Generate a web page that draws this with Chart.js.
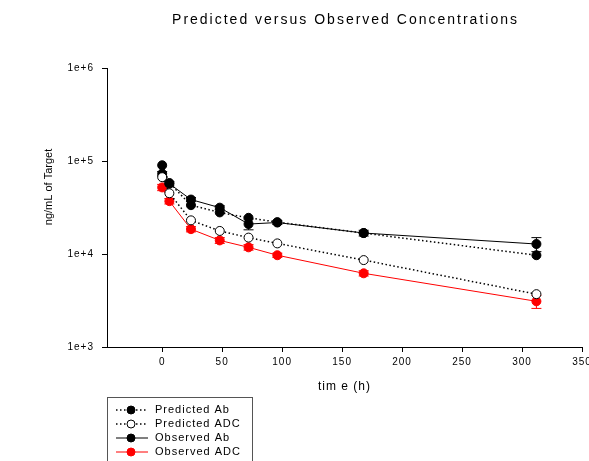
<!DOCTYPE html>
<html>
<head>
<meta charset="utf-8">
<script src="https://cdn.jsdelivr.net/npm/chart.js@4.4.1/dist/chart.umd.min.js"></script>
<style>
  html, body { margin: 0; padding: 0; background: #fff; overflow: hidden; }
</style>
</head>
<body>
<canvas id="chart" width="600" height="470"></canvas>
<script>
// sampling times (h)
const times = [0, 6, 24, 48, 72, 96, 168, 312];

// concentrations, ng/mL
const predictedAb  = [90000, 58000, 33500, 28000, 24500, 22000, 16800, 9700];
const predictedAdc = [67000, 45000, 23000, 17700, 15000, 13000, 8600, 3700];
const observedAb   = [73000, 57000, 38500, 31500, 21000, 21800, 16800, 12800];
const observedAdc  = [52000, 37000, 18500, 14000, 11800, 9700, 6200, 3100];

// +/- error of the observed points
const observedAbErr  = [4000, 3000, 2000, 1500, 2800, 1000, 1200, 2200];
const observedAdcErr = [4000, 2500, 1200, 1000, 800, 500, 400, 500];

const xTicks = [0, 50, 100, 150, 200, 250, 300, 350];
const yTicks = [1e3, 1e4, 1e5, 1e6];
const yTickLabels = ['1e+3', '1e+4', '1e+5', '1e+6'];

const chartTitle = 'Predicted versus Observed Concentrations';
const yTitle = 'ng/mL of Target';

const FONT = '"Liberation Sans", Arial, sans-serif';

const toPoints = (vals) => vals.map((v, i) => ({x: times[i], y: v}));

const letterSpacing = {
    id: 'letterSpacing',
    beforeLayout(chart) { chart.ctx.letterSpacing = '1px'; },
    beforeDraw(chart) { chart.ctx.letterSpacing = '1px'; }
};

const errorBars = {
    id: 'errorBars',
    beforeDatasetsDraw(chart) {
        const {ctx, scales: {x, y}} = chart;
        chart.data.datasets.forEach(ds => {
            if (!ds.errors) return;
            ctx.save();
            ctx.strokeStyle = ds.borderColor;
            ctx.lineWidth = 1;
            ds.data.forEach((p, j) => {
                const e = ds.errors[j];
                const px = x.getPixelForValue(p.x);
                const top = y.getPixelForValue(p.y + e);
                const bot = y.getPixelForValue(p.y - e);
                ctx.beginPath();
                ctx.moveTo(px, top); ctx.lineTo(px, bot);
                ctx.moveTo(px - 5, top); ctx.lineTo(px + 5, top);
                ctx.moveTo(px - 5, bot); ctx.lineTo(px + 5, bot);
                ctx.stroke();
            });
            ctx.restore();
        });
    }
};

// title, y axis title and the boxed legend under the axis
const extras = {
    id: 'extras',
    afterDraw(chart) {
        const ctx = chart.ctx;
        const area = chart.chartArea;

        ctx.save();
        ctx.fillStyle = '#000';
        ctx.letterSpacing = '2px';
        ctx.font = '14px ' + FONT;
        ctx.textAlign = 'center';
        ctx.textBaseline = 'alphabetic';
        ctx.fillText(chartTitle, (area.left + area.right) / 2 + 1, 24);

        ctx.letterSpacing = '0px';
        ctx.font = '11px ' + FONT;
        ctx.translate(49, 187);
        ctx.rotate(-Math.PI / 2);
        ctx.textBaseline = 'middle';
        ctx.fillText(yTitle, 0, 0);
        ctx.restore();

        ctx.save();
        ctx.strokeStyle = '#555';
        ctx.lineWidth = 1;
        ctx.strokeRect(107.5, 397.5, 145, 90);
        ctx.letterSpacing = '1px';
        ctx.font = '11px ' + FONT;
        ctx.textBaseline = 'middle';
        chart.data.datasets.forEach((ds, i) => {
            const yy = 410 + i * 14;
            ctx.save();
            ctx.strokeStyle = ds.borderColor;
            ctx.lineWidth = ds.borderWidth;
            ctx.setLineDash(ds.borderDash || []);
            ctx.beginPath();
            ctx.moveTo(116, yy); ctx.lineTo(148, yy);
            ctx.stroke();
            ctx.setLineDash([]);
            ctx.beginPath();
            ctx.arc(131, yy, 4, 0, Math.PI * 2);
            ctx.fillStyle = ds.pointBackgroundColor;
            ctx.fill();
            ctx.lineWidth = 1;
            ctx.strokeStyle = ds.pointBorderColor;
            ctx.stroke();
            ctx.restore();
            ctx.fillStyle = '#000';
            ctx.fillText(ds.label, 155, yy);
        });
        ctx.restore();
    }
};

const dotted = [1.5, 2.5];

new Chart(document.getElementById('chart'), {
    type: 'scatter',
    data: {
        datasets: [
            {
                label: 'Predicted Ab',
                data: toPoints(predictedAb),
                showLine: true,
                borderColor: '#000',
                borderWidth: 1.5,
                borderDash: dotted,
                pointBackgroundColor: '#000',
                pointBorderColor: '#000',
                pointRadius: 4.5,
                pointBorderWidth: 1
            },
            {
                label: 'Predicted ADC',
                data: toPoints(predictedAdc),
                showLine: true,
                borderColor: '#000',
                borderWidth: 1.5,
                borderDash: dotted,
                pointBackgroundColor: '#fff',
                pointBorderColor: '#000',
                pointRadius: 4.5,
                pointBorderWidth: 1
            },
            {
                label: 'Observed Ab',
                data: toPoints(observedAb),
                errors: observedAbErr,
                showLine: true,
                borderColor: '#000',
                borderWidth: 1,
                pointBackgroundColor: '#000',
                pointBorderColor: '#000',
                pointRadius: 4.5,
                pointBorderWidth: 1
            },
            {
                label: 'Observed ADC',
                data: toPoints(observedAdc),
                errors: observedAdcErr,
                showLine: true,
                borderColor: '#ff0000',
                borderWidth: 1,
                pointBackgroundColor: '#ff0000',
                pointBorderColor: '#ff0000',
                pointRadius: 4.5,
                pointBorderWidth: 1
            }
        ]
    },
    options: {
        responsive: false,
        animation: false,
        layout: { padding: { left: 0, right: 18, top: 68, bottom: 0 } },
        scales: {
            x: {
                type: 'linear',
                min: -46,
                max: 350,
                afterBuildTicks: (scale) => { scale.ticks = xTicks.map(v => ({value: v})); },
                afterFit: (scale) => { scale.height = 470 - 347; },
                grid: { drawOnChartArea: false, tickLength: 5, tickColor: '#000' },
                border: { color: '#000', width: 1 },
                ticks: { color: '#000', font: { family: FONT, size: 10 }, padding: 4, maxRotation: 0 },
                title: {
                    display: true,
                    text: 'tim e (h)',
                    color: '#000',
                    font: { family: FONT, size: 12 },
                    padding: { top: 0, bottom: 76 }
                }
            },
            y: {
                type: 'logarithmic',
                min: 1000,
                max: 1000000,
                afterBuildTicks: (scale) => { scale.ticks = yTicks.map(v => ({value: v})); },
                afterFit: (scale) => { scale.width = 107; },
                grid: { drawOnChartArea: false, tickLength: 5, tickColor: '#000' },
                border: { color: '#000', width: 1 },
                ticks: {
                    color: '#000',
                    font: { family: FONT, size: 10 },
                    padding: 8,
                    callback: (value, index) => yTickLabels[index]
                }
            }
        },
        plugins: {
            legend: { display: false },
            tooltip: { enabled: false },
            title: { display: false }
        }
    },
    plugins: [letterSpacing, errorBars, extras]
});
</script>
</body>
</html>
